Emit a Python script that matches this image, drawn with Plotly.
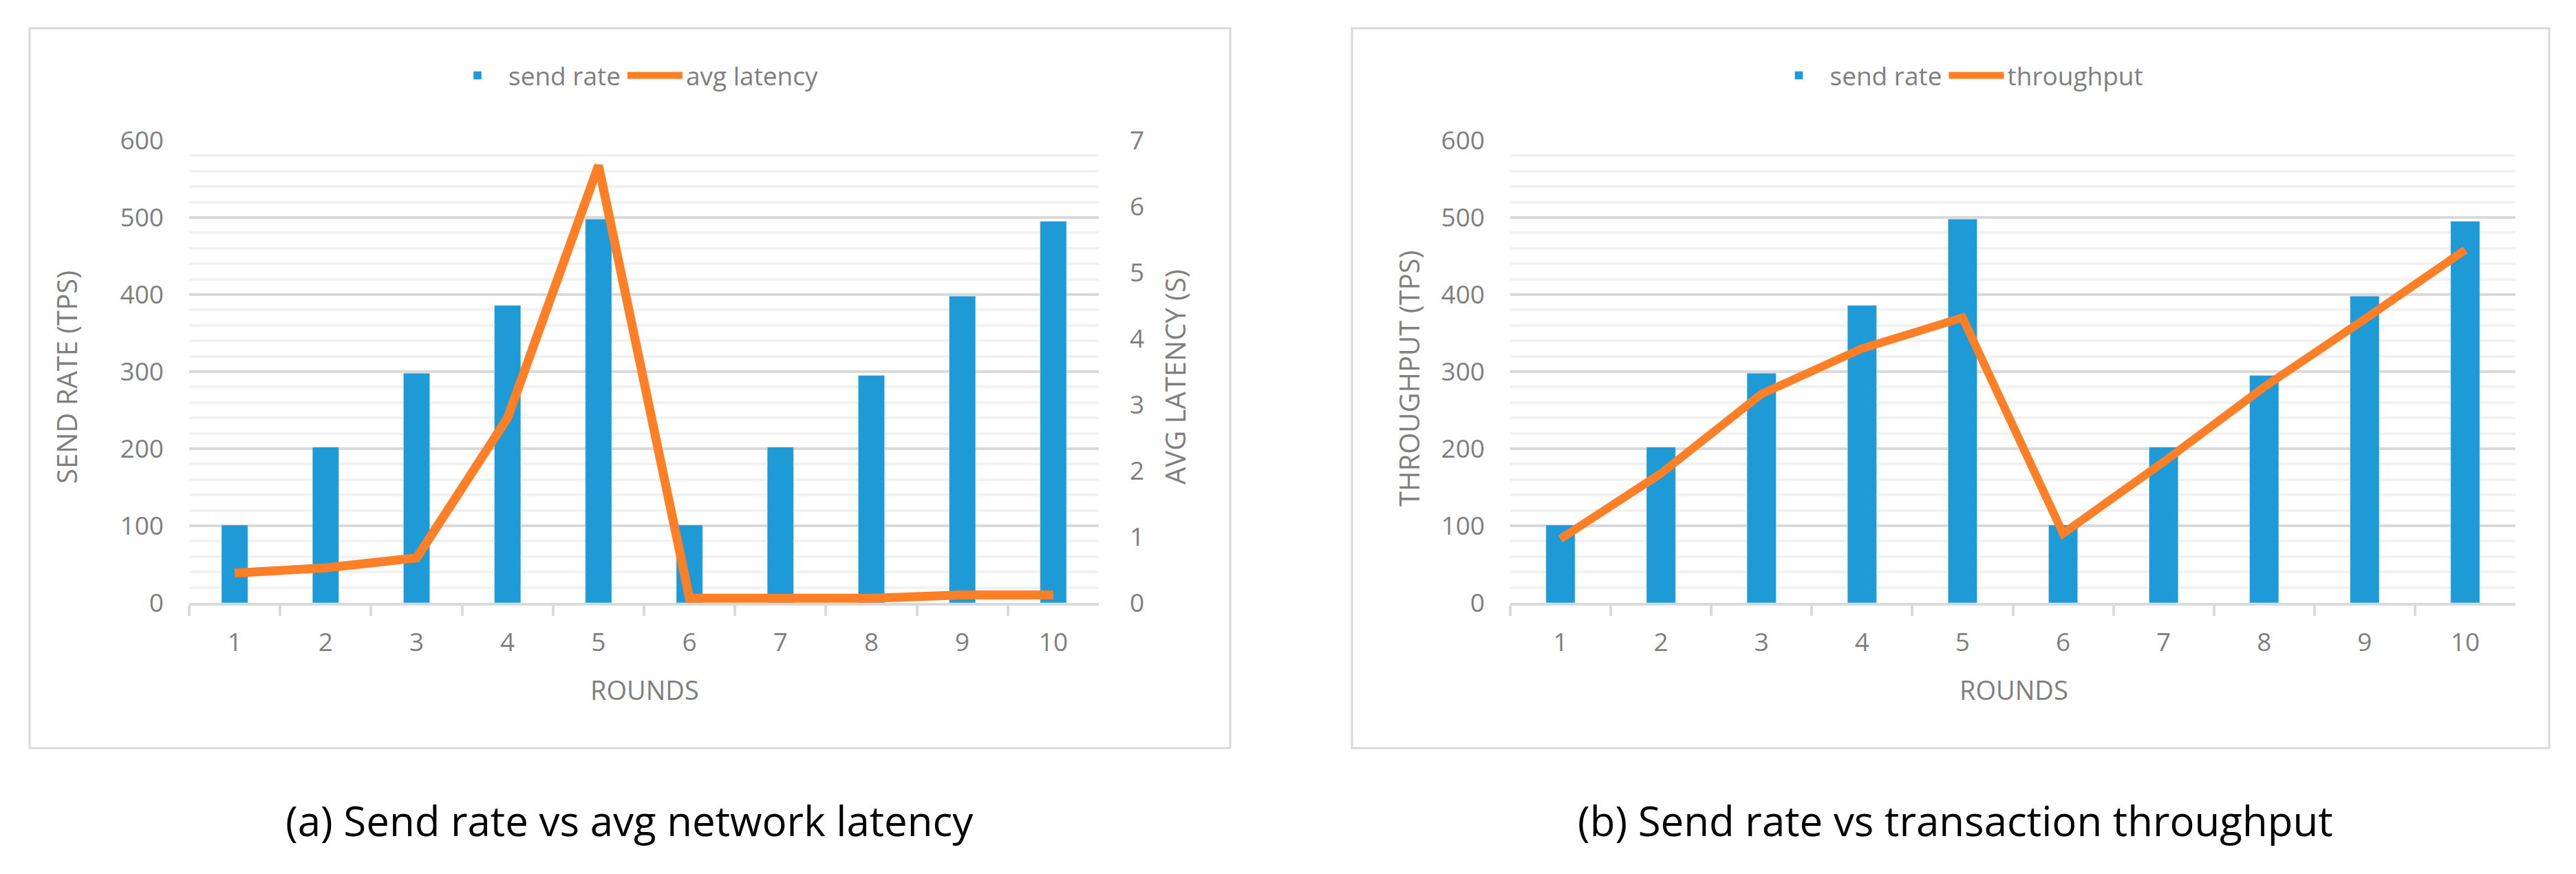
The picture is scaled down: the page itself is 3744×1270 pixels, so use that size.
import plotly.graph_objects as go

# ---- data ----
rounds = ["1", "2", "3", "4", "5", "6", "7", "8", "9", "10"]
send_rate = [101, 202, 298, 386, 498, 101, 202, 295, 398, 495]
avg_latency = [0.45, 0.53, 0.68, 2.8, 6.62, 0.07, 0.07, 0.07, 0.12, 0.12]
throughput = [83, 168, 271, 330, 370, 90, 183, 280, 368, 458]

left_ticks = [0, 100, 200, 300, 400, 500, 600]
right_ticks = [0, 1, 2, 3, 4, 5, 6, 7]

BLUE = "#1e9bd7"
ORANGE = "#ff7f27"
GRAY = "#7f7f7f"
GRID = "#d9d9d9"
MINOR = "#f2f2f2"
FONT = "Open Sans"

W, H = 3744, 1270
OFF = 8  # page body margin shift


def px(x):
    return (x - OFF) / W


def py(y):
    return 1 - (y - OFF) / H


fig = go.Figure()

fig.add_trace(go.Bar(x=rounds, y=send_rate, name="send rate", marker_color=BLUE,
                     xaxis="x", yaxis="y", legend="legend"))
fig.add_trace(go.Scatter(x=rounds, y=avg_latency, name="avg latency", mode="lines",
                         line=dict(color=ORANGE, width=13), xaxis="x", yaxis="y3",
                         legend="legend"))
fig.add_trace(go.Bar(x=rounds, y=send_rate, name="send rate", marker_color=BLUE,
                     xaxis="x2", yaxis="y2", legend="legend2"))
fig.add_trace(go.Scatter(x=rounds, y=throughput, name="throughput", mode="lines",
                         line=dict(color=ORANGE, width=12), xaxis="x2", yaxis="y2",
                         legend="legend2"))

ydom = [py(876), py(204)]
tickfont = dict(family=FONT, size=37, color=GRAY)

xcommon = dict(type="category", showgrid=False, showline=True, linecolor=GRID,
               linewidth=4, ticks="outside", ticklen=15, tickwidth=3.5,
               tickcolor=GRID, tickson="boundaries", tickfont=tickfont,
               ticklabelstandoff=22, zeroline=False, automargin=False)
ycommon = dict(range=[0, 600], tickvals=left_ticks, showgrid=True, gridcolor=GRID,
               gridwidth=4, zeroline=False, showline=False, ticks="",
               tickfont=tickfont, ticklabelstandoff=36, automargin=False,
               minor=dict(dtick=20, showgrid=True, gridcolor=MINOR, gridwidth=4),
               domain=ydom)

legfont = dict(family=FONT, size=37, color=GRAY)

fig.update_layout(
    width=W, height=H, autosize=False,
    margin=dict(l=0, r=0, t=0, b=0, autoexpand=False),
    paper_bgcolor="white", plot_bgcolor="white",
    bargap=0.71,
    showlegend=True,
    xaxis=dict(domain=[px(275), px(1597)], anchor="y", **xcommon),
    yaxis=dict(anchor="x", **ycommon),
    yaxis3=dict(range=[0, 7], tickvals=right_ticks, overlaying="y", side="right",
                anchor="x", showgrid=False, zeroline=False, showline=False,
                ticks="", tickfont=tickfont, ticklabelstandoff=44, automargin=False),
    xaxis2=dict(domain=[px(2195), px(3656)], anchor="y2", **xcommon),
    yaxis2=dict(anchor="x2", **ycommon),
    legend=dict(orientation="h", x=px(922), y=py(110), xanchor="center",
                yanchor="middle", font=legfont, bgcolor="rgba(0,0,0,0)",
                itemwidth=80),
    legend2=dict(orientation="h", x=px(2845), y=py(110), xanchor="center",
                 yanchor="middle", font=legfont, bgcolor="rgba(0,0,0,0)",
                 itemwidth=80),
)

# panel borders
for x0, x1 in [(43, 1788), (1965, 3705)]:
    fig.add_shape(type="rect", xref="paper", yref="paper",
                  x0=px(x0), x1=px(x1), y0=py(1087), y1=py(41),
                  line=dict(color=GRID, width=3), fillcolor="rgba(0,0,0,0)",
                  layer="below")

ann = []
titlefont = dict(family=FONT, size=40, color=GRAY)
ann.append(dict(text="SEND RATE (TPS)", x=px(96), y=py(548), textangle=-90, font=titlefont))
ann.append(dict(text="AVG LATENCY (S)", x=px(1707), y=py(548), textangle=-90, font=titlefont))
ann.append(dict(text="THROUGHPUT (TPS)", x=px(2048), y=py(550), textangle=-90, font=titlefont))
ann.append(dict(text="ROUNDS", x=px(937), y=py(1002), font=dict(family=FONT, size=38, color=GRAY)))
ann.append(dict(text="ROUNDS", x=px(2927), y=py(1002), font=dict(family=FONT, size=38, color=GRAY)))
capfont = dict(family=FONT, size=60, color="black")
ann.append(dict(text="(a) Send rate vs avg network latency", x=px(915), y=py(1192), font=capfont))
ann.append(dict(text="(b) Send rate vs transaction throughput", x=px(2842), y=py(1192), font=capfont))
for a in ann:
    a.update(xref="paper", yref="paper", showarrow=False, xanchor="center", yanchor="middle")
    fig.add_annotation(**a)

fig.write_html("out.html")
